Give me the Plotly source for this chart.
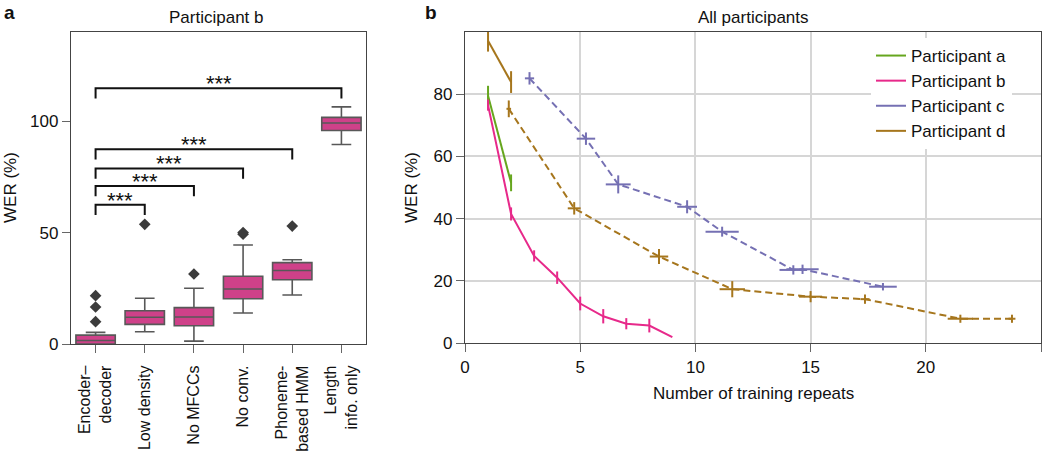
import plotly.graph_objects as go

# ---------------- Panel a data (Participant b) ----------------
conditions = ["Encoder–<br>decoder", "Low density", "No MFCCs", "No conv.",
              "Phoneme-<br>based HMM", "Length<br>info. only"]
box_q1 = [0.0, 8.8, 8.2, 20.3, 28.8, 95.8]
box_median = [1.6, 12.0, 12.1, 24.7, 33.0, 99.2]
box_q3 = [4.0, 14.9, 16.3, 30.4, 36.5, 101.7]
box_low = [0.0, 5.5, 1.3, 13.9, 22.0, 89.5]
box_high = [5.2, 20.5, 25.0, 44.4, 37.8, 106.4]
outlier_cond = [0, 0, 0, 1, 2, 3, 3, 4]
outlier_wer = [10.0, 16.6, 21.7, 53.7, 31.4, 49.3, 50.0, 52.9]

bracket_target = [5, 4, 3, 2, 1]
bracket_level = [114.8, 87.4, 78.8, 70.9, 62.5]
bracket_drop = 4.6
bracket_label = "***"

# ---------------- Panel b data (all participants) ----------------
a_x = [1, 2]
a_y = [79.5, 51.5]
a_ey = [3.2, 2.7]

b_x = [1, 2, 3, 4, 5, 6, 7, 8, 9]
b_y = [76.5, 41.5, 28.0, 21.0, 12.7, 8.6, 6.2, 5.6, 1.9]
b_ey = [1.8, 2.1, 1.8, 2.0, 2.2, 2.3, 1.8, 2.2, 0.0]

c_x = [2.8, 5.25, 6.65, 9.64, 11.16, 14.25, 14.65, 18.14]
c_y = [85.1, 65.7, 51.0, 43.8, 35.8, 23.5, 23.7, 18.1]
c_ex = [0.2, 0.4, 0.54, 0.43, 0.72, 0.6, 0.7, 0.6]
c_ey = [2.0, 2.0, 2.9, 2.1, 1.6, 1.5, 1.5, 1.2]

d1_x = [1, 2]
d1_y = [97.2, 83.9]
d1_ey = [3.5, 3.5]

d2_x = [1.9, 4.74, 8.42, 11.6, 15.0, 17.36, 21.5, 23.74]
d2_y = [75.3, 43.3, 27.8, 17.3, 14.9, 14.1, 7.8, 7.8]
d2_ex = [0.1, 0.28, 0.4, 0.55, 0.5, 0.2, 0.55, 0.15]
d2_ey = [2.7, 2.0, 2.4, 2.6, 1.8, 1.5, 1.3, 1.3]

participant_names = ["Participant a", "Participant b", "Participant c", "Participant d"]

# ---------------- styles ----------------
W, H = 1050, 453
FONT = "Liberation Sans, Arial, sans-serif"
GREEN, PINK, PURPLE, GOLD = "#66a61e", "#e7298a", "#7570b3", "#a6761d"
BOXFILL, BOXLINE = "#cf4189", "#585858"
AXLINE = "#444444"
GRID = "#d6d6d6"
DASH = "7px,4px"

fig = go.Figure()

# legend entries (solid lines)
for name, col in zip(participant_names, [GREEN, PINK, PURPLE, GOLD]):
    fig.add_trace(go.Scatter(x=[None], y=[None], mode="lines", name=name,
                             line=dict(color=col, width=2),
                             xaxis="x2", yaxis="y2", showlegend=True))

# ---------- Panel a ----------
positions = list(range(len(conditions)))
fig.add_trace(go.Box(x=positions, q1=box_q1, median=box_median, q3=box_q3,
                     lowerfence=box_low, upperfence=box_high,
                     width=0.8, whiskerwidth=0.5, boxpoints=False,
                     fillcolor=BOXFILL, line=dict(color=BOXLINE, width=1.6),
                     xaxis="x", yaxis="y", showlegend=False, hoverinfo="skip"))
fig.add_trace(go.Scatter(x=outlier_cond, y=outlier_wer, mode="markers",
                         marker=dict(symbol="diamond", size=9, color="#3c3c3c"),
                         xaxis="x", yaxis="y", showlegend=False, hoverinfo="skip"))

annotations = []
for tgt, lvl in zip(bracket_target, bracket_level):
    fig.add_trace(go.Scatter(x=[0, 0, tgt, tgt],
                             y=[lvl - bracket_drop, lvl, lvl, lvl - bracket_drop],
                             mode="lines", line=dict(color="#111111", width=2),
                             xaxis="x", yaxis="y", showlegend=False, hoverinfo="skip"))
    annotations.append(dict(x=tgt / 2, y=lvl, xref="x", yref="y", text=bracket_label,
                            showarrow=False, yanchor="bottom", yshift=-10,
                            font=dict(size=22, color="#111111", family=FONT)))

# ---------- Panel b ----------
def err(arr, col):
    return dict(type="data", array=arr, visible=True, color=col, thickness=2, width=0)

fig.add_trace(go.Scatter(x=a_x, y=a_y, mode="lines", line=dict(color=GREEN, width=2),
                         error_y=err(a_ey, GREEN), xaxis="x2", yaxis="y2", showlegend=False))
fig.add_trace(go.Scatter(x=b_x, y=b_y, mode="lines", line=dict(color=PINK, width=2),
                         error_y=err(b_ey, PINK), xaxis="x2", yaxis="y2", showlegend=False))
fig.add_trace(go.Scatter(x=c_x, y=c_y, mode="lines", line=dict(color=PURPLE, width=2, dash=DASH),
                         error_x=err(c_ex, PURPLE), error_y=err(c_ey, PURPLE),
                         xaxis="x2", yaxis="y2", showlegend=False))
fig.add_trace(go.Scatter(x=d1_x, y=d1_y, mode="lines", line=dict(color=GOLD, width=2),
                         error_y=err(d1_ey, GOLD), xaxis="x2", yaxis="y2", showlegend=False))
fig.add_trace(go.Scatter(x=d2_x, y=d2_y, mode="lines", line=dict(color=GOLD, width=2, dash=DASH),
                         error_x=err(d2_ex, GOLD), error_y=err(d2_ey, GOLD),
                         xaxis="x2", yaxis="y2", showlegend=False))

# ---------- layout ----------
def px_x(p):
    return p / W

def px_y(p):
    return 1 - p / H

tickfont = dict(size=17, color="#111111", family=FONT)
annotations += [
    dict(text="<b>a</b>", x=px_x(2), y=px_y(0), xanchor="left", yanchor="top"),
    dict(text="<b>b</b>", x=px_x(423), y=px_y(0), xanchor="left", yanchor="top"),
    dict(text="Participant b", x=px_x(216), y=px_y(18), xanchor="center", yanchor="middle"),
    dict(text="All participants", x=px_x(753), y=px_y(18), xanchor="center", yanchor="middle"),
    dict(text="WER (%)", x=px_x(10), y=px_y(188), textangle=-90, xanchor="center", yanchor="middle"),
    dict(text="WER (%)", x=px_x(411), y=px_y(188), textangle=-90, xanchor="center", yanchor="middle"),
    dict(text="Number of training repeats", x=px_x(753), y=px_y(393), xanchor="center", yanchor="middle"),
]
for an in annotations[-7:]:
    an.update(xref="paper", yref="paper", showarrow=False,
              font=dict(size=17, color="#111111", family=FONT))
annotations[-7]["font"] = dict(size=19, color="#111111", family=FONT)
annotations[-6]["font"] = dict(size=19, color="#111111", family=FONT)

axis_common = dict(showline=True, mirror=True, linecolor=AXLINE, linewidth=1.3,
                   ticks="outside", ticklen=8, tickwidth=1.3, tickcolor="#666666",
                   zeroline=False, tickfont=tickfont, automargin=False)

fig.update_layout(
    width=W, height=H,
    margin=dict(l=0, r=0, t=0, b=0),
    paper_bgcolor="white", plot_bgcolor="white",
    font=dict(family=FONT, size=17, color="#111111"),
    xaxis=dict(domain=[px_x(71), px_x(366)], range=[-0.5, 5.5],
               tickvals=positions, ticktext=conditions, tickangle=-90,
               ticklabelstandoff=6, showgrid=False, anchor="y",
               **{**axis_common, "tickfont": dict(size=16, color="#111111", family=FONT)}),
    yaxis=dict(domain=[px_y(344), px_y(32)], range=[0, 140], tickvals=[0, 50, 100],
               showgrid=False, anchor="x", **axis_common),
    xaxis2=dict(domain=[px_x(465), px_x(1041)], range=[0, 25], tickvals=[0, 5, 10, 15, 20, 25],
                showgrid=True, gridcolor=GRID, gridwidth=1.5, anchor="y2", **axis_common),
    yaxis2=dict(domain=[px_y(343), px_y(32)], range=[0, 100], tickvals=[0, 20, 40, 60, 80],
                showgrid=True, gridcolor=GRID, gridwidth=1.5, anchor="x2", **axis_common),
    legend=dict(x=px_x(871), y=px_y(38), xanchor="left", yanchor="top",
                bgcolor="white", borderwidth=0, tracegroupgap=0,
                font=dict(size=17, color="#111111", family=FONT)),
    annotations=annotations,
)

fig.write_html("out.html", config={"displayModeBar": False},
               post_script="document.body.style.margin='0';")
